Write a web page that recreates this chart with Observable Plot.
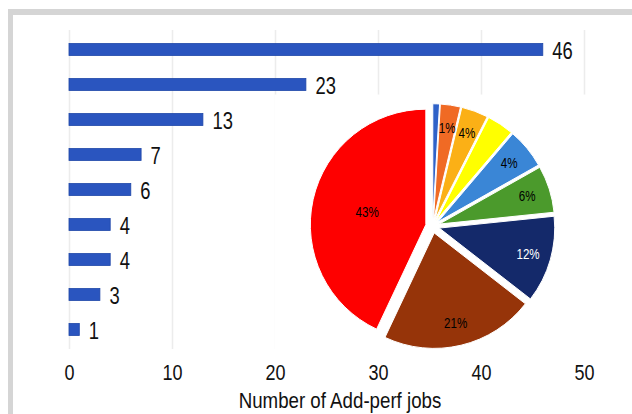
<!DOCTYPE html>
<html>
<head>
<meta charset="utf-8">
<script src="https://cdn.jsdelivr.net/npm/d3@7"></script>
<script src="https://cdn.jsdelivr.net/npm/@observablehq/plot@0.6"></script>
<style>
  html, body { margin: 0; padding: 0; background: #fff; }
  #wrap { position: relative; width: 632px; height: 414px; overflow: hidden; }
  #frame { position: absolute; left: 8px; top: 9px; width: 700px; height: 500px;
           border-top: 6px solid #d5d5d5; border-left: 5px solid #d5d5d5; box-sizing: border-box; }
  #chart { position: absolute; left: 0; top: 0; }
  svg, svg text { font-family: "Liberation Sans", Arial, sans-serif; }
</style>
</head>
<body>
<div id="wrap"><div id="frame"></div><div id="chart"></div></div>
<script>
// Bar chart data (top to bottom)
const categories = ["c1", "c2", "c3", "c4", "c5", "c6", "c7", "c8", "c9"];
const jobs = [46, 23, 13, 7, 6, 4, 4, 3, 1];
const xTicks = [0, 10, 20, 30, 40, 50];
const xLabel = "Number of Add-perf jobs";

// Pie data (clockwise from 12 o'clock)
const pieValues = [1, 3, 4, 4, 6, 7, 13, 23, 46];
const pieLabels = ["", "1%", "4%", "", "4%", "6%", "12%", "21%", "43%"];
const pieColors = ["#2f62c8", "#f06a24", "#fbb016", "#ffff00", "#3a86d6", "#4b9a2c", "#14296a", "#963409", "#fe0000"];
const pieLabelColors = ["#000", "#000", "#000", "#000", "#000", "#000", "#fff", "#000", "#000"];

const bars = categories.map((c, i) => ({ cat: c, value: jobs[i] }));

// horizontal squeeze to mimic the condensed typeface of the original
const TEXT_SQUEEZE = 0.8;
const LABEL_SQUEEZE = 0.85;

function pieMark(index, scales, values, dim) {
  const g = d3.create("svg:g");
  const plotH = dim.height - dim.marginTop - dim.marginBottom;
  const cx = scales.x(35.3);
  const cy = dim.marginTop + plotH * 0.615;
  const R = plotH * 0.362;
  const explode = R * 0.06;
  // white backdrop behind the pasted pie
  g.append("rect")
    .attr("x", cx - R * 1.37).attr("y", cy - R * 1.14)
    .attr("width", R * 2.74).attr("height", R * 2.23)
    .attr("fill", "#fff");
  const arcs = d3.pie().sort(null).value(d => d)(pieValues);
  const arc = d3.arc().innerRadius(0).outerRadius(R);
  const total = d3.sum(pieValues);
  arcs.forEach((a, i) => {
    const mid = (a.startAngle + a.endAngle) / 2;
    const ox = Math.sin(mid) * explode, oy = -Math.cos(mid) * explode;
    const sg = g.append("g").attr("transform", `translate(${cx + ox},${cy + oy})`);
    sg.append("path").attr("d", arc(a)).attr("fill", pieColors[i])
      .attr("stroke", "#ffffff").attr("stroke-width", 1);
    if (pieLabels[i]) {
      const lr = pieValues[i] / total > 0.3 ? R * 0.52 : R * 0.8;
      sg.append("text")
        .attr("x", Math.sin(mid) * lr).attr("y", -Math.cos(mid) * lr)
        .attr("text-anchor", "middle").attr("dy", "0.35em")
        .attr("font-size", 14.5).attr("fill", pieLabelColors[i])
        .text(pieLabels[i]);
    }
  });
  return g.node();
}

const chart = Plot.plot({
  width: 632,
  height: 414,
  marginLeft: 69,
  marginRight: 48,
  marginTop: 30,
  marginBottom: 65,
  style: { background: "transparent", fontFamily: "'Liberation Sans', Arial, sans-serif" },
  x: { domain: [0, 50], ticks: xTicks },
  y: { domain: categories, padding: 0, axis: null },
  marks: [
    Plot.gridX(xTicks, { stroke: "#ececec", strokeOpacity: 1, strokeWidth: 1.5 }),
    pieMark,
    Plot.barX(bars, { x: "value", y: "cat", fill: "#2a55bf", stroke: "#1f47a8", strokeWidth: 0.8, insetTop: 11.5, insetBottom: 11.5 }),
    Plot.text(bars, { x: "value", y: "cat", text: d => String(d.value), textAnchor: "start", dx: 9, dy: 1.5, fontSize: 23, fill: "#111" }),
    Plot.axisX(xTicks, { tickSize: 0, tickPadding: 15, fontSize: 22.5, color: "#111", label: null }),
    Plot.text([xLabel], { frameAnchor: "bottom", dx: 13, dy: 51, fontSize: 22, fill: "#111", lineAnchor: "middle" })
  ]
});

// squeeze every text horizontally about its own anchor x
chart.querySelectorAll("text").forEach(t => {
  let x = parseFloat(t.getAttribute("x"));
  if (!isFinite(x)) x = 0;
  const s = t.textContent === xLabel ? LABEL_SQUEEZE : TEXT_SQUEEZE;
  const prev = t.getAttribute("transform") || "";
  t.setAttribute("transform", `${prev} translate(${x},0) scale(${s},1) translate(${-x},0)`.trim());
});

document.getElementById("chart").appendChild(chart);
</script>
</body>
</html>
